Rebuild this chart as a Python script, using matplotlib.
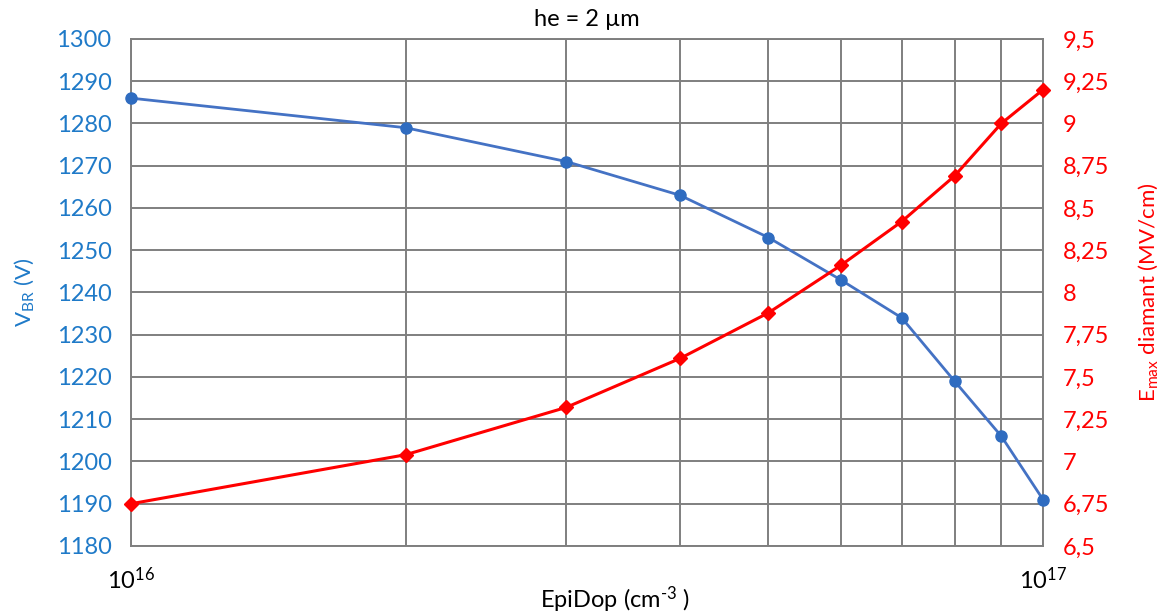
import math
import matplotlib
matplotlib.use("Agg")
import matplotlib.pyplot as plt
from matplotlib.ticker import FixedLocator, FuncFormatter, NullFormatter

plt.rcParams['font.family'] = ['Lato', 'DejaVu Sans']
plt.rcParams['mathtext.fontset'] = 'custom'
plt.rcParams['mathtext.rm'] = 'Lato'
plt.rcParams['mathtext.it'] = 'Lato:italic'
plt.rcParams['mathtext.bf'] = 'Lato:bold'

epidop = [1e16, 2e16, 3e16, 4e16, 5e16, 6e16, 7e16, 8e16, 9e16, 1e17]
vbr = [1286, 1279, 1271, 1263, 1253, 1243, 1234, 1219, 1206, 1191]
emax = [6.75, 7.04, 7.32, 7.61, 7.88, 8.16, 8.42, 8.69, 9.0, 9.2]
left_ticks = [1180, 1190, 1200, 1210, 1220, 1230, 1240, 1250, 1260, 1270, 1280, 1290, 1300]
right_ticks = [6.5, 6.75, 7.0, 7.25, 7.5, 7.75, 8.0, 8.25, 8.5, 8.75, 9.0, 9.25, 9.5]

BLUE_TXT = '#1F7AC8'
BLUE_LINE = '#4472C4'
RED = '#FF0000'
GRID = '#7F7F7F'

fig = plt.figure(figsize=(11.71, 6.15), dpi=100)
ax = fig.add_axes([0.1119, 0.1122, 0.7788, 0.8244])
ax.set_xscale('log')
ax.set_xlim(1e16, 1e17)
ax.set_ylim(1180, 1300)
ax.set_yticks(left_ticks)
ax.xaxis.set_major_locator(FixedLocator([1e16, 1e17]))
ax.xaxis.set_minor_locator(FixedLocator([2e16, 3e16, 4e16, 5e16, 6e16, 7e16, 8e16, 9e16]))
ax.xaxis.set_major_formatter(FuncFormatter(lambda v, p: r'$\mathregular{10^{%d}}$' % round(math.log10(v))))
ax.xaxis.set_minor_formatter(NullFormatter())
ax.grid(True, which='both', axis='x', color=GRID, lw=1.4)
ax.grid(True, which='major', axis='y', color=GRID, lw=1.4)
ax.set_axisbelow(True)
for s in ax.spines.values():
    s.set_color(GRID)
    s.set_linewidth(1.4)
ax.tick_params(axis='both', which='both', length=0)
ax.tick_params(axis='y', labelcolor=BLUE_TXT, labelsize=17, pad=14)
ax.tick_params(axis='x', labelsize=17, pad=15)

ax.plot(epidop, vbr, color=BLUE_LINE, lw=2, marker='o', ms=8, mfc='#2F6CC0', mec='#2F6CC0', zorder=3, clip_on=False)

ax2 = ax.twinx()
ax2.set_ylim(6.5, 9.5)
ax2.set_yticks(right_ticks)
ax2.yaxis.set_major_formatter(FuncFormatter(lambda v, p: ('%g' % v).replace('.', ',')))
ax2.tick_params(axis='y', length=0, labelcolor=RED, labelsize=17, pad=14)
for s in ax2.spines.values():
    s.set_visible(False)
ax2.plot(epidop, emax, color=RED, lw=2.2, marker='D', ms=7, mfc=RED, mec=RED, zorder=3, clip_on=False)

ax.set_ylabel(r'V$_{\mathregular{BR}}$ (V)', color=BLUE_TXT, fontsize=16, labelpad=15)
ax2.set_ylabel(r'E$_{\mathregular{max}}$ diamant (MV/cm)', color=RED, fontsize=16, labelpad=20)
fig.text(0.525, 0.025, 'EpiDop (cm$^{\\mathregular{\u2010}3}$ )', fontsize=17, ha='center', va='center')
ax.set_title('he = 2 µm', fontsize=17, pad=9)

fig.savefig('out.png', dpi=100)
